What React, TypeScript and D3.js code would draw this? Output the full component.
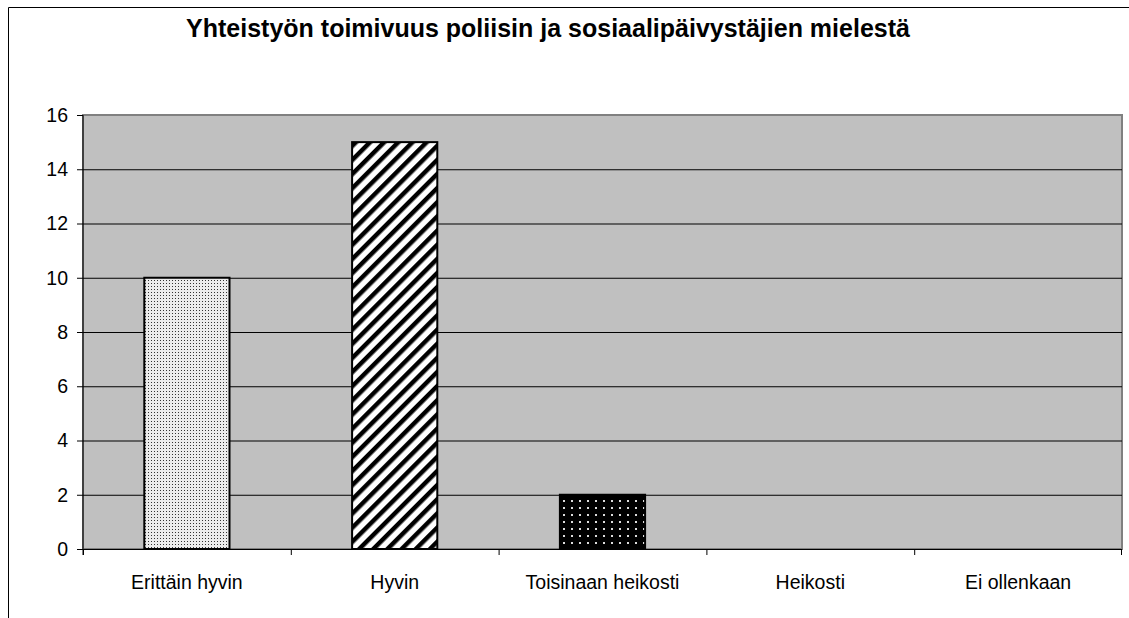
import * as d3 from "d3";

const categories = ["Erittäin hyvin", "Hyvin", "Toisinaan heikosti", "Heikosti", "Ei ollenkaan"];
const values = [10, 15, 2, 0, 0];
const yTicks = [0, 2, 4, 6, 8, 10, 12, 14, 16];
const patterns = ["dotsLight", "diag", "dotsDark", "dotsLight", "dotsLight"];
const title = "Yhteistyön toimivuus poliisin ja sosiaalipäivystäjien mielestä";

const W = 1129;
const H = 618;
const plot = { left: 83, top: 115, right: 1122, bottom: 549 };

const App = () => {
  const x = d3
    .scaleBand<string>()
    .domain(categories)
    .range([plot.left, plot.right])
    .paddingInner(0.59)
    .paddingOuter(0.295);
  const band = d3.scaleBand<string>().domain(categories).range([plot.left, plot.right]);
  const y = d3.scaleLinear().domain([0, 16]).range([plot.bottom, plot.top]);

  return (
    <svg
      width={W}
      height={H}
      style={{ position: "absolute", left: 0, top: 0, fontFamily: "'Liberation Sans', Arial, sans-serif" }}
    >
      <defs>
        <pattern id="dotsLight" width={3} height={3} patternUnits="userSpaceOnUse">
          <rect width={3} height={3} fill="#ececec" />
          <rect x={1} y={1} width={1} height={1} fill="#333" />
        </pattern>
        <pattern id="diag" width={10} height={10} patternUnits="userSpaceOnUse" patternTransform="rotate(45)">
          <rect width={10} height={10} fill="#fff" />
          <rect x={0} width={4.5} height={10} fill="#000" />
        </pattern>
        <pattern id="dotsDark" width={8} height={7} patternUnits="userSpaceOnUse">
          <rect width={8} height={7} fill="#000" />
          <rect x={3} y={3} width={2} height={2} fill="#ddd" />
        </pattern>
      </defs>
      <rect x={0} y={0} width={W} height={H} fill="#fff" />
      {/* outer chart border */}
      <line x1={8.5} y1={7.5} x2={W} y2={7.5} stroke="#000" />
      <line x1={8.5} y1={7.5} x2={8.5} y2={H} stroke="#000" />

      <text x={548} y={37} textAnchor="middle" fontWeight="bold" fontSize={25} fill="#000">
        {title}
      </text>

      {/* plot area */}
      <rect
        x={plot.left}
        y={plot.top}
        width={plot.right - plot.left}
        height={plot.bottom - plot.top}
        fill="#c0c0c0"
        stroke="#808080"
        strokeWidth={2}
      />
      {yTicks.slice(1, -1).map((t) => (
        <line key={t} x1={plot.left} x2={plot.right} y1={y(t) + 0.5} y2={y(t) + 0.5} stroke="#000" />
      ))}

      {categories.map((c, i) =>
        values[i] > 0 ? (
          <rect
            key={c}
            x={x(c)}
            y={y(values[i])}
            width={x.bandwidth()}
            height={y(0) - y(values[i])}
            fill={`url(#${patterns[i]})`}
            stroke="#000"
            strokeWidth={2}
          />
        ) : null
      )}

      {/* axes */}
      <line x1={plot.left} x2={plot.left} y1={plot.top} y2={plot.bottom + 6} stroke="#000" />
      <line x1={plot.left} x2={plot.right} y1={plot.bottom + 0.5} y2={plot.bottom + 0.5} stroke="#000" />
      {yTicks.map((t) => (
        <g key={t}>
          <line x1={plot.left - 6} x2={plot.left} y1={y(t) + 0.5} y2={y(t) + 0.5} stroke="#000" />
          <text x={68} y={y(t)} dy="0.35em" textAnchor="end" fontSize={19.5} fill="#000">
            {t}
          </text>
        </g>
      ))}
      {categories.map((c) => (
        <g key={c}>
          <line
            x1={(band(c) ?? 0) + 0.5}
            x2={(band(c) ?? 0) + 0.5}
            y1={plot.bottom}
            y2={plot.bottom + 6}
            stroke="#000"
          />
          <text x={(band(c) ?? 0) + band.bandwidth() / 2} y={589} textAnchor="middle" fontSize={19.5} fill="#000">
            {c}
          </text>
        </g>
      ))}
      <line x1={plot.right - 0.5} x2={plot.right - 0.5} y1={plot.bottom} y2={plot.bottom + 6} stroke="#000" />
    </svg>
  );
};

export default App;
